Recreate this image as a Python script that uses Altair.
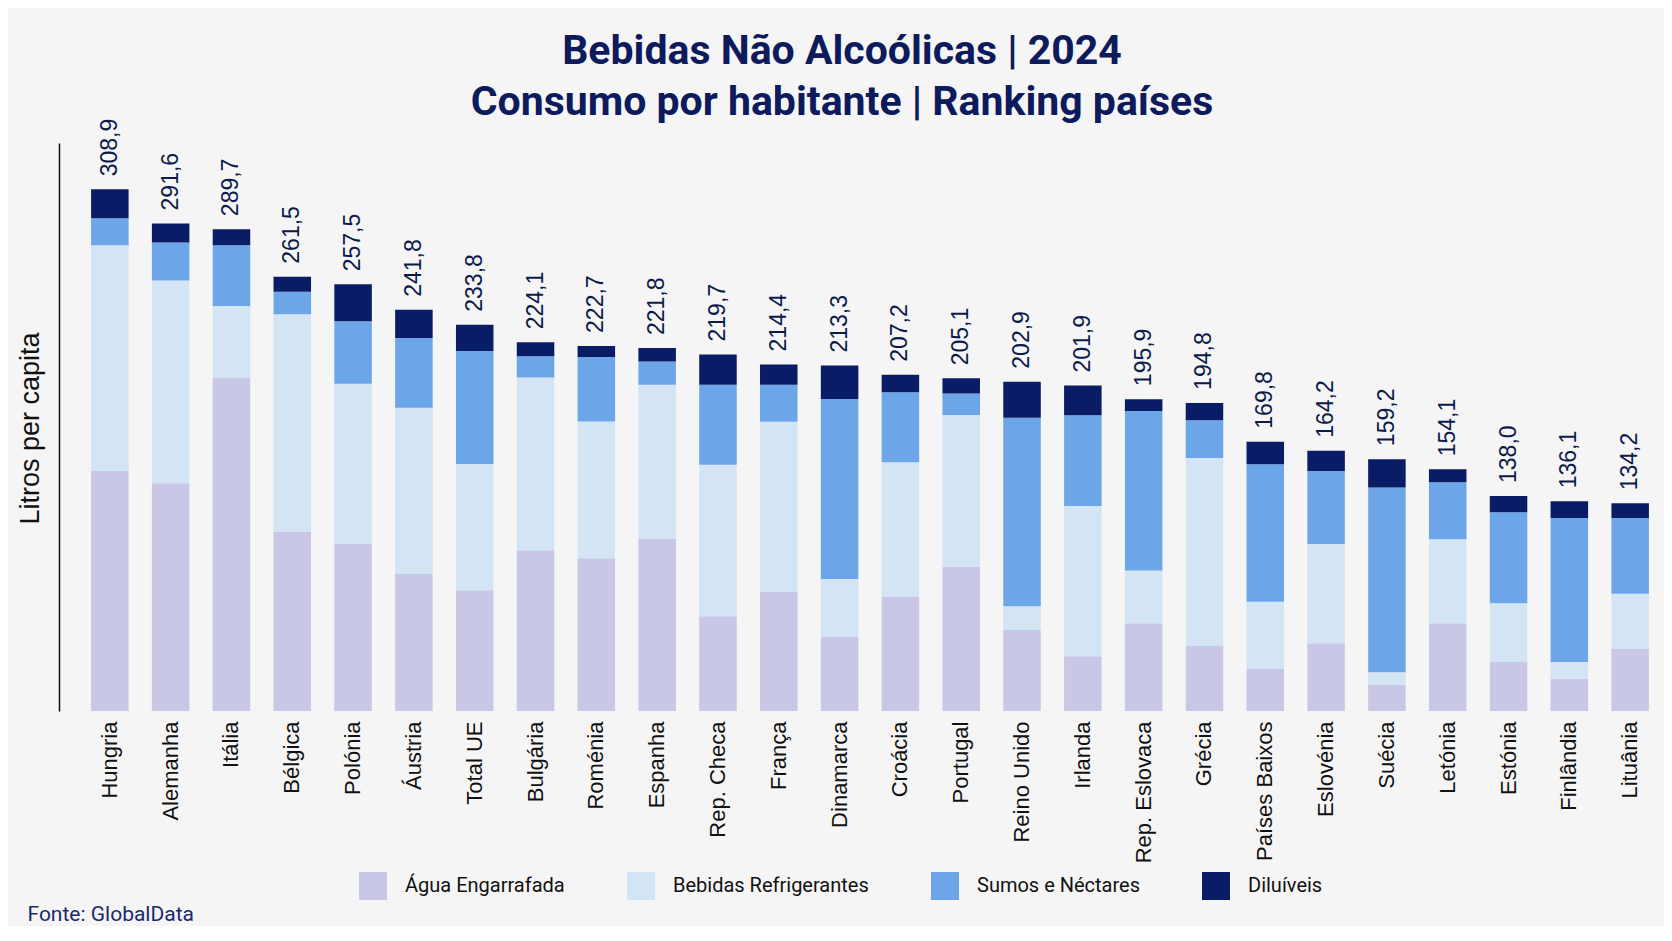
import altair as alt
import pandas as pd

paises = ["Hungria", "Alemanha", "Itália", "Bélgica", "Polónia", "Áustria", "Total UE",
          "Bulgária", "Roménia", "Espanha", "Rep. Checa", "França", "Dinamarca", "Croácia",
          "Portugal", "Reino Unido", "Irlanda", "Rep. Eslovaca", "Grécia", "Países Baixos",
          "Eslovénia", "Suécia", "Letónia", "Estónia", "Finlândia", "Lituânia"]

# Totals as printed above each bar
totais = [308.9, 291.6, 289.7, 261.5, 257.5, 241.8, 233.8, 224.1, 222.7, 221.8, 219.7, 214.4,
          213.3, 207.2, 205.1, 202.9, 201.9, 195.9, 194.8, 169.8, 164.2, 159.2, 154.1, 138.0,
          136.1, 134.2]

categorias = ["Água Engarrafada", "Bebidas Refrigerantes", "Sumos e Néctares", "Diluíveis"]
cores = ["#c9c7e6", "#d3e4f5", "#6ca6e9", "#0b1c66"]

# Segment values (litres per capita)
agua = [152.5, 145.3, 204.7, 118.2, 111.4, 94.4, 85.2, 107.7, 103.2, 114.0, 70.6, 84.6,
        59.0, 81.4, 98.3, 62.9, 48.1, 66.7, 53.9, 41.0, 55.4, 32.2, 66.7, 44.9, 35.5, 52.2]
refrigerantes = [126.6, 114.0, 40.2, 122.1, 89.8, 93.3, 71.0, 97.0, 76.8, 86.7, 85.2, 95.3,
                 32.6, 75.8, 85.4, 13.3, 84.4, 29.6, 105.6, 37.8, 55.8, 7.0, 47.2, 33.1, 9.4, 31.1]
sumos = [15.1, 21.3, 34.2, 12.7, 35.1, 39.2, 63.4, 12.0, 36.3, 13.1, 44.9, 20.8,
         101.1, 39.3, 12.0, 106.0, 51.0, 89.7, 21.3, 77.2, 41.0, 103.7, 32.0, 51.0, 80.9, 42.5]
diluiveis = [16.3, 10.7, 9.0, 8.4, 20.8, 15.9, 14.8, 7.8, 6.2, 7.5, 17.0, 11.4,
             18.8, 9.8, 8.6, 20.2, 16.7, 6.6, 9.7, 12.7, 11.4, 16.0, 7.3, 9.2, 9.4, 8.3]

series = [agua, refrigerantes, sumos, diluiveis]
rows = []
for i, p in enumerate(paises):
    for k, cat in enumerate(categorias):
        rows.append({"pais": p, "categoria": cat, "ordem": k, "valor": series[k][i]})
df = pd.DataFrame(rows)

dt = pd.DataFrame({
    "pais": paises,
    "topo": [sum(s[i] for s in series) for i in range(len(paises))],
    "rotulo": [f"{v:.1f}".replace(".", ",") for v in totais],
})

NARROW = "Roboto, Liberation Sans, sans-serif"
SANS = "Liberation Sans, Arial, Helvetica, sans-serif"

yscale = alt.Scale(domain=[17.4, 336.5], zero=False, nice=False, clamp=True)
xscale = alt.Scale(paddingInner=0.383, paddingOuter=0.1)

x_enc = alt.X(
    "pais:N", sort=paises, scale=xscale,
    axis=alt.Axis(
        title="Fonte: GlobalData", domain=False, ticks=False, labelAngle=270,
        labelAlign="right", labelBaseline="middle", labelPadding=10,
        labelFont=SANS, labelFontSize=22, labelColor="#111111",
        titleX=-58, titleY=209, titleAlign="left", titleBaseline="alphabetic",
        titleFont=NARROW, titleFontSize=21, titleFontWeight="normal", titleColor="#1a2a6c",
    ),
)

bars = alt.Chart(df).mark_bar().encode(
    x=x_enc,
    y=alt.Y(
        "valor:Q", stack="zero", scale=yscale,
        axis=alt.Axis(
            title="Litros per capita", labels=False, ticks=False, grid=False,
            domain=True, domainColor="#111111", domainWidth=1.5, offset=26,
            titleFont=SANS, titleFontSize=27, titleFontWeight="normal", titleColor="#111111",
            titleAngle=270, titleX=-29, titleY=285, titleAlign="center", titleBaseline="middle",
        ),
    ),
    color=alt.Color(
        "categoria:N", sort=categorias,
        scale=alt.Scale(domain=categorias, range=cores),
        legend=alt.Legend(
            title=None, orient="none", legendX=274, legendY=729, direction="horizontal",
            columns=4, symbolType="square", symbolSize=784, symbolStrokeWidth=0,
            symbolOpacity=1, labelFont=NARROW, labelFontSize=20, labelColor="#111111",
            labelLimit=400, columnPadding=62, labelOffset=18,
        ),
    ),
    order=alt.Order("ordem:Q", sort="ascending"),
)

labels = alt.Chart(dt).mark_text(
    angle=270, align="left", baseline="middle", dx=13,
    font=SANS, fontSize=23, color="#0d1b4b",
).encode(
    x=alt.X("pais:N", sort=paises, scale=xscale),
    y=alt.Y("topo:Q", scale=yscale),
    text="rotulo:N",
)

chart = alt.layer(bars, labels).properties(
    width=1570,
    height=568,
    autosize=alt.AutoSizeParams(type="none"),
    padding={"left": 77, "top": 135, "right": 9, "bottom": 215},
    background="#f5f5f5",
    title=alt.TitleParams(
        text=["Bebidas Não Alcoólicas | 2024", "Consumo por habitante | Ranking países"],
        font=NARROW, fontSize=41, fontWeight="bold", color="#0d1a5c",
        anchor="middle", dx=-28, lineHeight=51, baseline="bottom", offset=-46,
    ),
).configure_view(strokeWidth=0)

chart.save("out.html", embed_options={"renderer": "svg", "actions": False})
